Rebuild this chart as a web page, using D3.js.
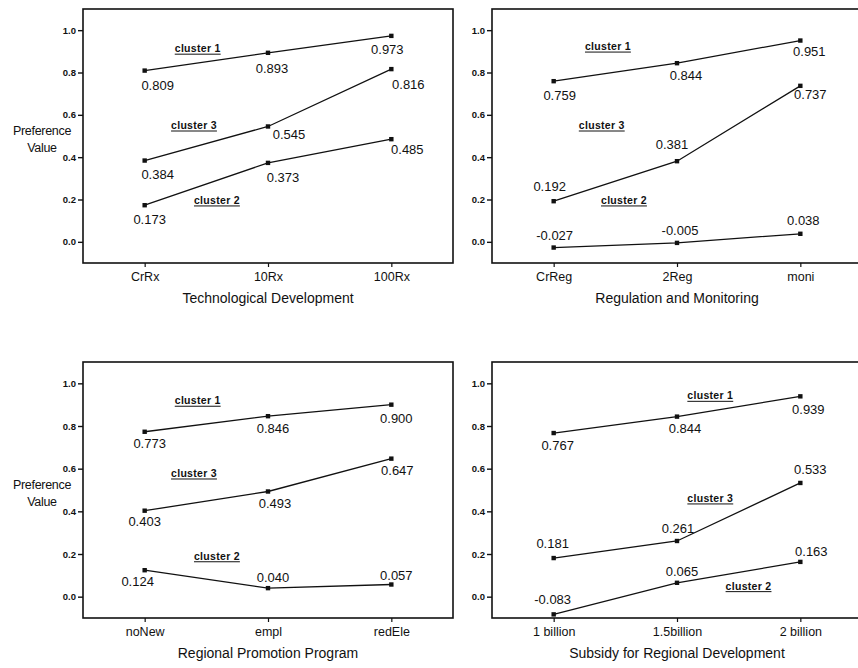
<!DOCTYPE html>
<html>
<head>
<meta charset="utf-8">
<script src="https://cdn.jsdelivr.net/npm/d3@7"></script>
<style>
  body { margin: 0; background: #fff; }
  text { font-family: "Liberation Sans", Arial, sans-serif; fill: #111; }
</style>
</head>
<body>
<svg id="chart" width="858" height="668"></svg>
<script>
// series order: cluster 1, cluster 2, cluster 3
const clusters = ["cluster 1", "cluster 2", "cluster 3"];
const yTicks = [0.0, 0.2, 0.4, 0.6, 0.8, 1.0];

const techCats = ["CrRx", "10Rx", "100Rx"];
const techValues = [[0.809, 0.893, 0.973], [0.173, 0.373, 0.485], [0.384, 0.545, 0.816]];

const regCats = ["CrReg", "2Reg", "moni"];
const regValues = [[0.759, 0.844, 0.951], [-0.027, -0.005, 0.038], [0.192, 0.381, 0.737]];

const promoCats = ["noNew", "empl", "redEle"];
const promoValues = [[0.773, 0.846, 0.900], [0.124, 0.040, 0.057], [0.403, 0.493, 0.647]];

const subsidyCats = ["1 billion", "1.5billion", "2 billion"];
const subsidyValues = [[0.767, 0.844, 0.939], [-0.083, 0.065, 0.163], [0.181, 0.261, 0.533]];

// where each value label sits relative to its point [dx, dy]
const techLabelOff = [[[13, 19], [4, 20], [-4, 18]], [[5, 19], [15, 19], [16, 15]], [[13, 18], [21, 13], [17, 20]]];
const regLabelOff = [[[6, 19], [9, 17], [9, 15]], [[1, -8], [3, -8], [3, -9]], [[-4, -10], [-5, -12], [10, 13]]];
const promoLabelOff = [[[5, 16], [5, 17], [5, 18]], [[-7, 16], [5, -6], [5, -5]], [[0, 15], [7, 17], [6, 16]]];
const subsidyLabelOff = [[[4, 17], [8, 16], [8, 18]], [[-1, -10], [5, -7], [11, -6]], [[-1, -10], [1, -8], [10, -9]]];

// cluster name anchors in data space: [category index, value]
const techClusterPos = [[0.43, 0.896], [0.586, 0.179], [0.40, 0.533]];
const regClusterPos = [[0.44, 0.906], [0.57, 0.179], [0.39, 0.533]];
const promoClusterPos = [[0.43, 0.902], [0.586, 0.173], [0.40, 0.561]];
const subsidyClusterPos = [[1.27, 0.925], [1.58, 0.033], [1.27, 0.444]];

const panels = [
  {title: "Technological Development", cats: techCats, values: techValues, off: techLabelOff, cpos: techClusterPos,
   x0: 83, x1: 453, y0: 263, y1: 9, ylabel: true},
  {title: "Regulation and Monitoring", cats: regCats, values: regValues, off: regLabelOff, cpos: regClusterPos,
   x0: 492, x1: 862, y0: 263, y1: 9, ylabel: false},
  {title: "Regional Promotion Program", cats: promoCats, values: promoValues, off: promoLabelOff, cpos: promoClusterPos,
   x0: 83, x1: 453, y0: 618, y1: 362, ylabel: true},
  {title: "Subsidy for Regional Development", cats: subsidyCats, values: subsidyValues, off: subsidyLabelOff, cpos: subsidyClusterPos,
   x0: 492, x1: 862, y0: 618, y1: 362, ylabel: false}
];

const svg = d3.select("#chart");
svg.append("rect").attr("width", 858).attr("height", 668).attr("fill", "#fff");

panels.forEach(p => {
  const g = svg.append("g");
  const x = d3.scalePoint().domain(p.cats).range([p.x0, p.x1]).padding(0.5);
  const xi = d3.scaleLinear().domain([0, p.cats.length - 1]).range([x(p.cats[0]), x(p.cats[p.cats.length - 1])]);
  const y = d3.scaleLinear().domain([-0.1, 1.1]).range([p.y0, p.y1]);

  //Frame
  g.append("rect")
    .attr("x", p.x0).attr("y", p.y1)
    .attr("width", p.x1 - p.x0).attr("height", p.y0 - p.y1)
    .attr("fill", "none").attr("stroke", "#111").attr("stroke-width", 1.6);

  //Y axis ticks
  const ya = g.append("g").attr("transform", `translate(${p.x0},0)`)
    .call(d3.axisLeft(y).tickValues(yTicks).tickFormat(d => d.toFixed(1)).tickSize(5).tickPadding(2));
  ya.select(".domain").remove();
  ya.selectAll("line").attr("stroke", "#111").attr("stroke-width", 1.4);
  ya.selectAll("text").attr("font-size", 9.5).attr("font-weight", "bold")
    .style("font-family", "'Liberation Sans', Arial, sans-serif").attr("fill", "#111");

  //X axis ticks
  const xa = g.append("g").attr("transform", `translate(0,${p.y0})`)
    .call(d3.axisBottom(x).tickSize(4).tickPadding(5));
  xa.select(".domain").remove();
  xa.selectAll("line").attr("stroke", "#111").attr("stroke-width", 1.2);
  xa.selectAll("text").attr("font-size", 12.5)
    .style("font-family", "'Liberation Sans', Arial, sans-serif").attr("fill", "#111");

  //Axis title
  g.append("text")
    .attr("x", x(p.cats[1])).attr("y", p.y0 + 40)
    .attr("text-anchor", "middle").attr("font-size", 14)
    .text(p.title);

  if (p.ylabel) {
    const ym = y(0.5);
    g.append("text").attr("x", 42).attr("y", ym - 1).attr("text-anchor", "middle")
      .attr("font-size", 12.5).attr("letter-spacing", -0.3).text("Preference");
    g.append("text").attr("x", 42).attr("y", ym + 16).attr("text-anchor", "middle")
      .attr("font-size", 12.5).attr("letter-spacing", -0.3).text("Value");
  }

  const line = d3.line().x((d, i) => x(p.cats[i])).y(d => y(d));

  p.values.forEach((vals, s) => {
    g.append("path").datum(vals)
      .attr("d", line)
      .attr("fill", "none").attr("stroke", "#111").attr("stroke-width", 1.3);

    g.selectAll(null).data(vals).enter().append("rect")
      .attr("x", (d, i) => x(p.cats[i]) - 2.2)
      .attr("y", d => y(d) - 2.2)
      .attr("width", 4.4).attr("height", 4.4)
      .attr("fill", "#111");

    g.selectAll(null).data(vals).enter().append("text")
      .attr("x", (d, i) => x(p.cats[i]) + p.off[s][i][0])
      .attr("y", (d, i) => y(d) + p.off[s][i][1])
      .attr("text-anchor", "middle").attr("font-size", 13)
      .text(d => d.toFixed(3));

    //cluster name, underlined
    const cx = xi(p.cpos[s][0]), cy = y(p.cpos[s][1]);
    const t = g.append("text")
      .attr("x", cx).attr("y", cy)
      .attr("text-anchor", "middle").attr("font-size", 10.5).attr("font-weight", "bold")
      .attr("letter-spacing", 0.3)
      .text(clusters[s]);
    const w = t.node().getComputedTextLength();
    g.append("line")
      .attr("x1", cx - w / 2).attr("x2", cx + w / 2)
      .attr("y1", cy + 2).attr("y2", cy + 2)
      .attr("stroke", "#111").attr("stroke-width", 1);
  });
});
</script>
</body>
</html>
